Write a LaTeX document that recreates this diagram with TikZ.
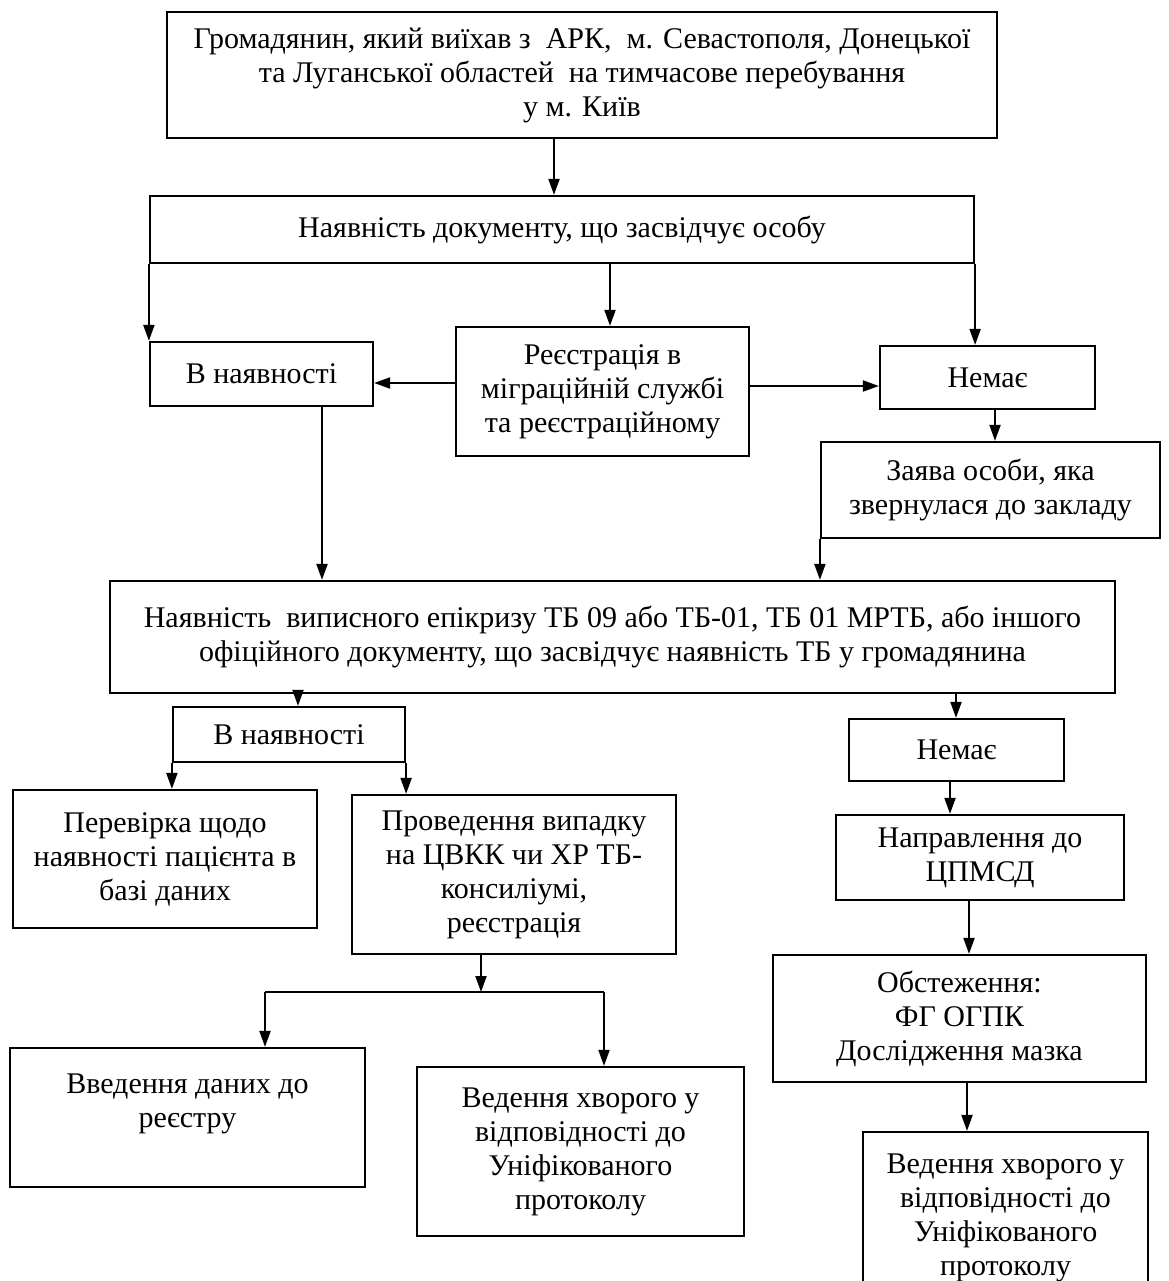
\documentclass[tikz,border=0pt]{standalone}
\usepackage{fontspec}
\setmainfont{Liberation Serif}
\usetikzlibrary{arrows.meta}
\begin{document}
\begin{tikzpicture}[x=1pt,y=-1pt,
  box/.style={draw, line width=2.2pt, align=center, inner sep=0pt, font=\fontsize{30}{34}\selectfont},
  arr/.style={line width=2pt, -{Triangle[length=16pt,width=11pt]}},
  ln/.style={line width=2pt}]
\useasboundingbox (0,0) rectangle (1168,1281);
\fill[white] (0,0) rectangle (1168,1281);

\node[box, minimum width=830pt, minimum height=126pt] (top) at (582,75)
  {Громадянин, який виїхав з\ \ АРК,\ \ м. Севастополя, Донецької\\ та Луганської областей\ \ на тимчасове перебування\\ у м. Київ};
\node[box, minimum width=824pt, minimum height=67pt] (doc) at (562,229.5)
  {Наявність документу, що засвідчує особу};
\node[box, minimum width=223pt, minimum height=64pt] (av1) at (261.5,374) {В наявності};
\node[box, minimum width=293pt, minimum height=129pt] (reg) at (602.5,391.5)
  {Реєстрація в\\ міграційній службі\\ та реєстраційному};
\node[box, minimum width=215pt, minimum height=63pt] (no1) at (987.5,377.5) {Немає};
\node[box, minimum width=339pt, minimum height=96pt] (zay) at (990.5,490)
  {Заява особи, яка\\ звернулася до закладу};
\node[box, minimum width=1005pt, minimum height=112pt] (tb) at (612.5,637)
  {Наявність\ \ виписного епікризу ТБ 09 або ТБ-01, ТБ 01 МРТБ, або іншого\\ офіційного документу, що засвідчує наявність ТБ у громадянина};
\node[box, minimum width=232pt, minimum height=55pt] (av2) at (289,734.5) {В наявності};
\node[box, minimum width=304pt, minimum height=138pt] (chk) at (165,859)
  {Перевірка щодо\\ наявності пацієнта в\\ базі даних};
\node[box, minimum width=324pt, minimum height=159pt] (prv) at (514,874.5)
  {Проведення випадку\\ на ЦВКК чи ХР ТБ-\\ консиліумі,\\ реєстрація};
\node[box, minimum width=215pt, minimum height=62pt] (no2) at (956.5,750) {Немає};
\node[box, minimum width=288pt, minimum height=85pt] (npr) at (980,857.5)
  {Направлення до\\ ЦПМСД};
\node[box, minimum width=373pt, minimum height=127pt] (obs) at (959.5,1018.5)
  {Обстеження:\\ ФГ ОГПК\\ Дослідження мазка};
\node[box, minimum width=355pt, minimum height=139pt] (vvd) at (187.5,1117.5)
  {Введення даних до\\ реєстру\\ \mbox{}};
\node[box, minimum width=327pt, minimum height=169pt] (vdm) at (580.5,1151.5)
  {Ведення хворого у\\ відповідності до\\ Уніфікованого\\ протоколу};
\node[box, minimum width=285pt, minimum height=172pt] (vdr) at (1005.5,1218)
  {Ведення хворого у\\ відповідності до\\ Уніфікованого\\ протоколу};

\coordinate (spl) at (481,992);
\coordinate (splL) at (265,992);
\coordinate (splR) at (604,992);

\draw[arr] (top.south -| 554,0) -- (doc.north -| 554,0);
\draw[arr] (doc.south west) -- (doc.south west |- av1.north);
\draw[arr] (doc.south -| 610,0) -- (reg.north -| 610,0);
\draw[arr] (doc.south east) -- (doc.south east |- no1.north);
\draw[arr] (reg.west |- 0,383) -- (av1.east |- 0,383);
\draw[arr] (reg.east |- 0,386) -- (no1.west |- 0,386);
\draw[arr] (no1.south -| 995,0) -- (zay.north -| 995,0);
\draw[arr] (av1.south -| 322,0) -- (tb.north -| 322,0);
\draw[arr] (zay.south west) -- (zay.south west |- tb.north);
\draw[arr] (tb.south -| 298,0) -- (av2.north -| 298,0);
\draw[arr] (av2.south west) -- (av2.south west |- chk.north);
\draw[arr] (av2.south east) -- (av2.south east |- prv.north);
\draw[arr] (tb.south -| 956,0) -- (no2.north -| 956,0);
\draw[arr] (no2.south -| 950,0) -- (npr.north -| 950,0);
\draw[arr] (npr.south -| 969,0) -- (obs.north -| 969,0);
\draw[arr] (obs.south -| 967,0) -- (vdr.north -| 967,0);
\draw[arr] (prv.south -| spl) -- (spl);
\draw[ln] (splL) -- (splR);
\draw[arr] (splL) -- (splL |- vvd.north);
\draw[arr] (splR) -- (splR |- vdm.north);
\end{tikzpicture}
\end{document}
